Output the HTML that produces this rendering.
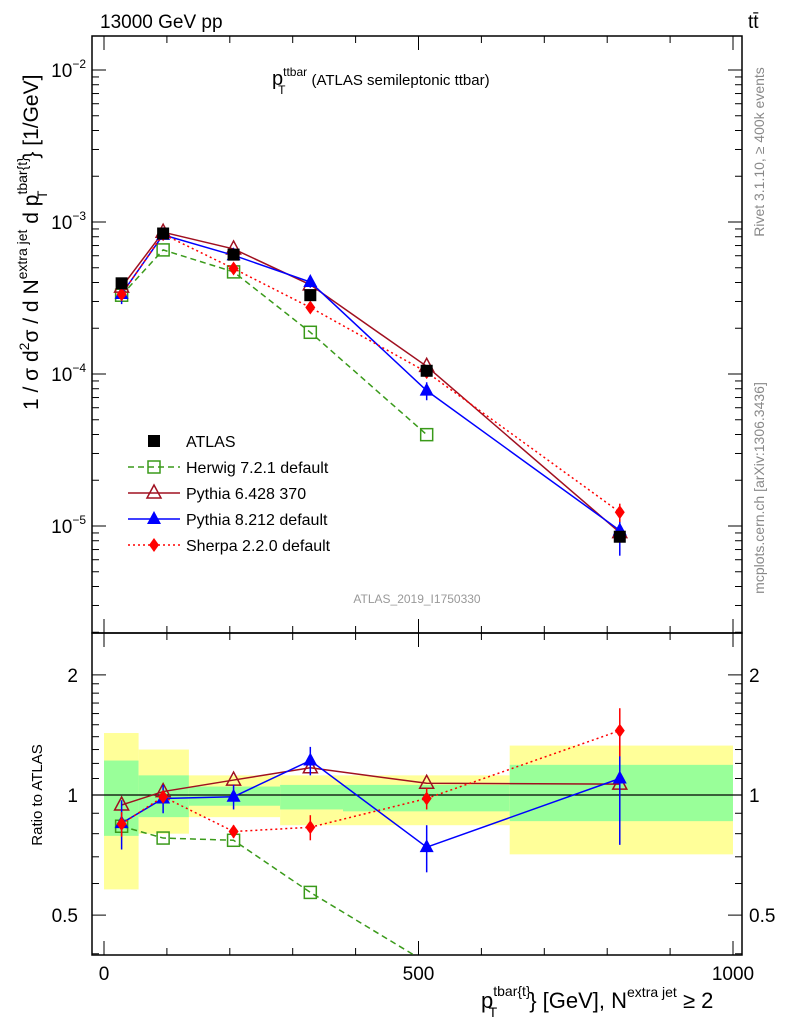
<!DOCTYPE html>
<html><head><meta charset="utf-8"><style>
body{margin:0;background:#fff}
svg{display:block;font-family:"Liberation Sans",sans-serif}
</style></head><body>
<svg id="c" width="786" height="1024" viewBox="0 0 786 1024">
<g id="bands"></g>
<rect x="92" y="36" width="650" height="597" fill="none" stroke="#000" stroke-width="1.5"/>
<rect x="92" y="633" width="650" height="322" fill="none" stroke="#000" stroke-width="1.5"/>
<g id="ticks"></g>
<g id="series"></g>
<text x="100" y="28" font-size="19">13000 GeV pp</text>
<text x="748" y="28" font-size="19">tt̄</text>
<text x="272" y="85" font-size="20">p<tspan font-size="12" dy="-9">ttbar</tspan><tspan font-size="12" dx="-29" dy="18">T</tspan><tspan font-size="15" dx="26" dy="-9">(ATLAS semileptonic ttbar)</tspan></text>
<text x="417" y="603" font-size="12" fill="#999" text-anchor="middle">ATLAS_2019_I1750330</text>
<text transform="translate(764,152) rotate(-90)" font-size="14" fill="#888" text-anchor="middle">Rivet 3.1.10, ≥ 400k events</text>
<text transform="translate(764,488) rotate(-90)" font-size="14" fill="#888" text-anchor="middle">mcplots.cern.ch [arXiv:1306.3436]</text>
<text transform="translate(38,410) rotate(-90)" font-size="21">1 / σ d<tspan font-size="14" dy="-9">2</tspan><tspan dy="9">σ / d N</tspan><tspan font-size="14" dy="-11">extra jet</tspan><tspan dy="11"> d p</tspan><tspan font-size="14" dy="-11">tbar{t}</tspan><tspan font-size="14" dx="-42" dy="20">T</tspan><tspan dx="32" dy="-9">} [1/GeV]</tspan></text>
<text transform="translate(42,795) rotate(-90)" font-size="15" text-anchor="middle">Ratio to ATLAS</text>
<text x="481" y="1008" font-size="22">p<tspan font-size="14" dy="-12">tbar{t}</tspan><tspan font-size="14" dx="-42" dy="21">T</tspan><tspan dx="32" dy="-9">} [GeV], N</tspan><tspan font-size="14" dy="-11">extra jet</tspan><tspan dy="11"> ≥ 2</tspan></text>
<g id="legend"></g>
</svg>
<script>
const binEdges=[0,55,135,280,380,645,1000];
const xCenters=[28,94,206,328,513,820];
const atlasVals=[3.95e-4,8.4e-4,6.1e-4,3.3e-4,1.05e-4,8.5e-6];
const bandGreenUp=[1.22,1.12,1.05,1.06,1.06,1.19];
const bandGreenDn=[0.79,0.88,0.94,0.92,0.91,0.86];
const bandYellowUp=[1.43,1.3,1.12,1.12,1.12,1.33];
const bandYellowDn=[0.58,0.8,0.88,0.84,0.84,0.71];
const herwigRatio=[0.835,0.78,0.77,0.57,0.38];
const pythia6Ratio=[0.944,1.02,1.09,1.17,1.07,1.065];
const pythia8Ratio=[0.85,0.98,0.99,1.22,0.74,1.10];
const pythia8Err=[0.12,0.08,0.07,0.1,0.1,0.35];
const sherpaRatio=[0.846,0.99,0.81,0.83,0.98,1.45];
const sherpaErr=[0.06,0.03,0.03,0.06,0.06,0.2];
const seriesNames=["Herwig 7.2.1 default","Pythia 6.428 370","Pythia 8.212 default","Sherpa 2.2.0 default"];

const NS="http://www.w3.org/2000/svg";
const XR=742;
const X=v=>104+v*0.629;
const Y=v=>222-(Math.log10(v)+3)*152;
const R=v=>795-Math.log10(v)*399;
function el(tag,attrs,parent){const e=document.createElementNS(NS,tag);for(const k in attrs)e.setAttribute(k,attrs[k]);parent.appendChild(e);return e;}
const bands=document.getElementById('bands'),ticks=document.getElementById('ticks'),ser=document.getElementById('series'),leg=document.getElementById('legend');

for(let i=0;i<6;i++){
 const x0=X(binEdges[i]),x1=X(binEdges[i+1]);
 const y=el('rect',{x:x0,y:R(bandYellowUp[i]),width:x1-x0,height:R(bandYellowDn[i])-R(bandYellowUp[i]),fill:'#ffff99'},bands);
 
 
 const g=el('rect',{x:x0,y:R(bandGreenUp[i]),width:x1-x0,height:R(bandGreenDn[i])-R(bandGreenUp[i]),fill:'#99ff99'},bands);
 
 
}
el('line',{x1:92,x2:XR,y1:R(1),y2:R(1),stroke:'#000','stroke-width':1.2},bands);

for(let v=0;v<=1000;v+=100){
 const big=v%500===0,x=X(v);
 [[36,1],[633,-1],[633,1],[955,-1]].forEach(([y,d])=>el('line',{x1:x,x2:x,y1:y,y2:y+d*(big?14:7),stroke:'#000'},ticks));
}
[0,500,1000].forEach(v=>{const t=el('text',{x:X(v),y:980,'font-size':19,'text-anchor':'middle'},ticks);t.textContent=v;});
for(let d=-6;d<=-2;d++){for(let m=1;m<10;m++){const v=m*Math.pow(10,d);const y=Y(v);if(y<36||y>633)continue;
 const L=m===1?14:7;el('line',{x1:92,x2:92+L,y1:y,y2:y,stroke:'#000'},ticks);el('line',{x1:XR,x2:XR-L,y1:y,y2:y,stroke:'#000'},ticks);}}
[-2,-3,-4,-5].forEach(d=>{const t=el('text',{x:86,y:Y(Math.pow(10,d))+7,'font-size':19,'text-anchor':'end'},ticks);t.innerHTML='10<tspan font-size="12" dy="-9">−'+(-d)+'</tspan>';});
[0.4,0.5,0.6,0.7,0.8,0.9,1,2].forEach(v=>{const y=R(v);if(y>955)return;const L=(v===1||v===2||v===0.5)?14:7;
 el('line',{x1:92,x2:92+L,y1:y,y2:y,stroke:'#000'},ticks);el('line',{x1:XR,x2:XR-L,y1:y,y2:y,stroke:'#000'},ticks);});
[1.1,1.2,1.3,1.4,1.5,1.6,1.7,1.8,1.9].forEach(v=>{const y=R(v);el('line',{x1:92,x2:99,y1:y,y2:y,stroke:'#000'},ticks);el('line',{x1:XR,x2:XR-7,y1:y,y2:y,stroke:'#000'},ticks);});
[[2,'2'],[1,'1'],[0.5,'0.5']].forEach(([v,s])=>{const y=R(v)+7;
 let t=el('text',{x:78,y:y,'font-size':19,'text-anchor':'end'},ticks);t.textContent=s;
 t=el('text',{x:749,y:y,'font-size':19},ticks);t.textContent=s;});

function marker(type,x,y,col,p){
 let m;
 if(type==='sq')m=el('rect',{x:x-6,y:y-6,width:12,height:12,fill:'none',stroke:col,'stroke-width':1.5},p);
 else if(type==='fsq')m=el('rect',{x:x-6,y:y-6,width:12,height:12,fill:col},p);
 else if(type==='otri')m=el('polygon',{points:`${x},${y-8} ${x-7},${y+5} ${x+7},${y+5}`,fill:'none',stroke:col,'stroke-width':1.5},p);
 else if(type==='tri')m=el('polygon',{points:`${x},${y-8} ${x-7},${y+5} ${x+7},${y+5}`,fill:col},p);
 else m=el('polygon',{points:`${x},${y-7} ${x-5},${y} ${x},${y+7} ${x+5},${y}`,fill:col},p);
 
 
}
const defs=[
 {r:herwigRatio,col:'#3a9a1a',dash:'6,4',m:'sq',err:null},
 {r:pythia6Ratio,col:'#a01020',dash:'',m:'otri',err:null},
 {r:pythia8Ratio,col:'#0000ff',dash:'',m:'tri',err:pythia8Err},
 {r:sherpaRatio,col:'#ff0000',dash:'2,3',m:'dia',err:sherpaErr}];
const clip=el('clipPath',{id:'rc'},ser);el('rect',{x:92,y:633,width:650,height:322},clip);
const clipM=el('clipPath',{id:'mc'},ser);el('rect',{x:92,y:36,width:650,height:597},clipM);
defs.forEach((d,si)=>{
 const gm=el('g',{'clip-path':'url(#mc)'},ser),gr=el('g',{'clip-path':'url(#rc)'},ser);
 const pm=d.r.map((r,i)=>X(xCenters[i])+','+Y(r*atlasVals[i])).join(' ');
 const pr=d.r.map((r,i)=>X(xCenters[i])+','+R(r)).join(' ');
 const lm=el('polyline',{points:pm,fill:'none',stroke:d.col,'stroke-width':1.5,'stroke-dasharray':d.dash},gm);
 
 
 const lr=el('polyline',{points:pr,fill:'none',stroke:d.col,'stroke-width':1.5,'stroke-dasharray':d.dash},gr);
 
 
 d.r.forEach((r,i)=>{
  const x=X(xCenters[i]);
  if(d.err){el('line',{x1:x,x2:x,y1:R(r+d.err[i]),y2:R(r-d.err[i]),stroke:d.col,'stroke-width':1.5},gr);
   el('line',{x1:x,x2:x,y1:Y((r+d.err[i])*atlasVals[i]),y2:Y((r-d.err[i])*atlasVals[i]),stroke:d.col,'stroke-width':1.5},gm);}
  marker(d.m,x,Y(r*atlasVals[i]),d.col,gm);marker(d.m,x,R(r),d.col,gr);
 });
});
atlasVals.forEach((v,i)=>marker('fsq',X(xCenters[i]),Y(v),'#000',ser));

const ly=[447,473,499,525,551];
marker('fsq',154,ly[0]-6,'#000',leg);
let t=el('text',{x:186,y:ly[0],'font-size':16},leg);t.textContent='ATLAS';
defs.forEach((d,i)=>{const y=ly[i+1]-6;
 el('line',{x1:128,x2:180,y1:y,y2:y,stroke:d.col,'stroke-width':1.5,'stroke-dasharray':d.dash},leg);
 marker(d.m,154,y,d.col,leg);
 const tt=el('text',{x:186,y:ly[i+1],'font-size':16},leg);tt.textContent=seriesNames[i];});
</script>
</body></html>
